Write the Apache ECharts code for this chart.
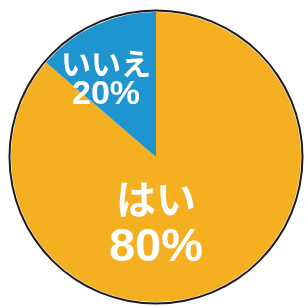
<!DOCTYPE html>
<html>
<head>
<meta charset="utf-8">
<script src="https://cdn.jsdelivr.net/npm/echarts@6/dist/echarts.min.js"></script>
<style>
  html, body { margin: 0; padding: 0; background: #fff; }
  #chart { width: 305px; height: 307px; }
</style>
</head>
<body>
<div id="chart"></div>
<script>
// answers and their printed percentages
var answers = ['はい', 'いいえ'];
var percentLabels = ['80%', '20%'];
// slice shares as drawn in the picture (the printed wedge is narrower than 20%)
var drawnShares = [86.3, 13.7];
var colors = ['#F5B022', '#1F95D0'];

var labelOffsets = [[0, 66], [-50, -78]];
var bigText = [
  { a: { fontSize: 40, lineHeight: 50 }, b: { fontSize: 47, lineHeight: 48 } },
  { a: { fontSize: 30, lineHeight: 31 }, b: { fontSize: 34, lineHeight: 31 } }
];

var chart = echarts.init(document.getElementById('chart'));

var sliceData = answers.map(function (name, i) {
  return {
    name: name,
    value: drawnShares[i],
    itemStyle: { color: colors[i] },
    label: {
      show: true,
      position: 'center',
      offset: labelOffsets[i],
      formatter: '{a|' + name + '}\n{b|' + percentLabels[i] + '}',
      rich: {
        a: {
          color: '#fff', fontWeight: 'bold', align: 'center',
          fontFamily: '"Noto Sans CJK JP", sans-serif',
          fontSize: bigText[i].a.fontSize, lineHeight: bigText[i].a.lineHeight
        },
        b: {
          color: '#fff', fontWeight: 'bold', align: 'center',
          fontFamily: '"Liberation Sans", Arial, sans-serif',
          fontSize: bigText[i].b.fontSize, lineHeight: bigText[i].b.lineHeight
        }
      }
    }
  };
});

chart.setOption({
  backgroundColor: '#fff',
  animation: false,
  series: [
    {
      type: 'pie',
      center: [156, 157],
      radius: [0, 145],
      startAngle: 90,
      clockwise: true,
      silent: true,
      labelLine: { show: false },
      itemStyle: { borderWidth: 0 },
      data: sliceData
    },
    {
      // thin dark outline round the disc
      type: 'pie',
      center: [156, 157],
      radius: [145.5, 147.5],
      silent: true,
      label: { show: false },
      labelLine: { show: false },
      data: [{ value: 1, itemStyle: { color: '#1b1b1b' } }]
    }
  ]
});
</script>
</body>
</html>
